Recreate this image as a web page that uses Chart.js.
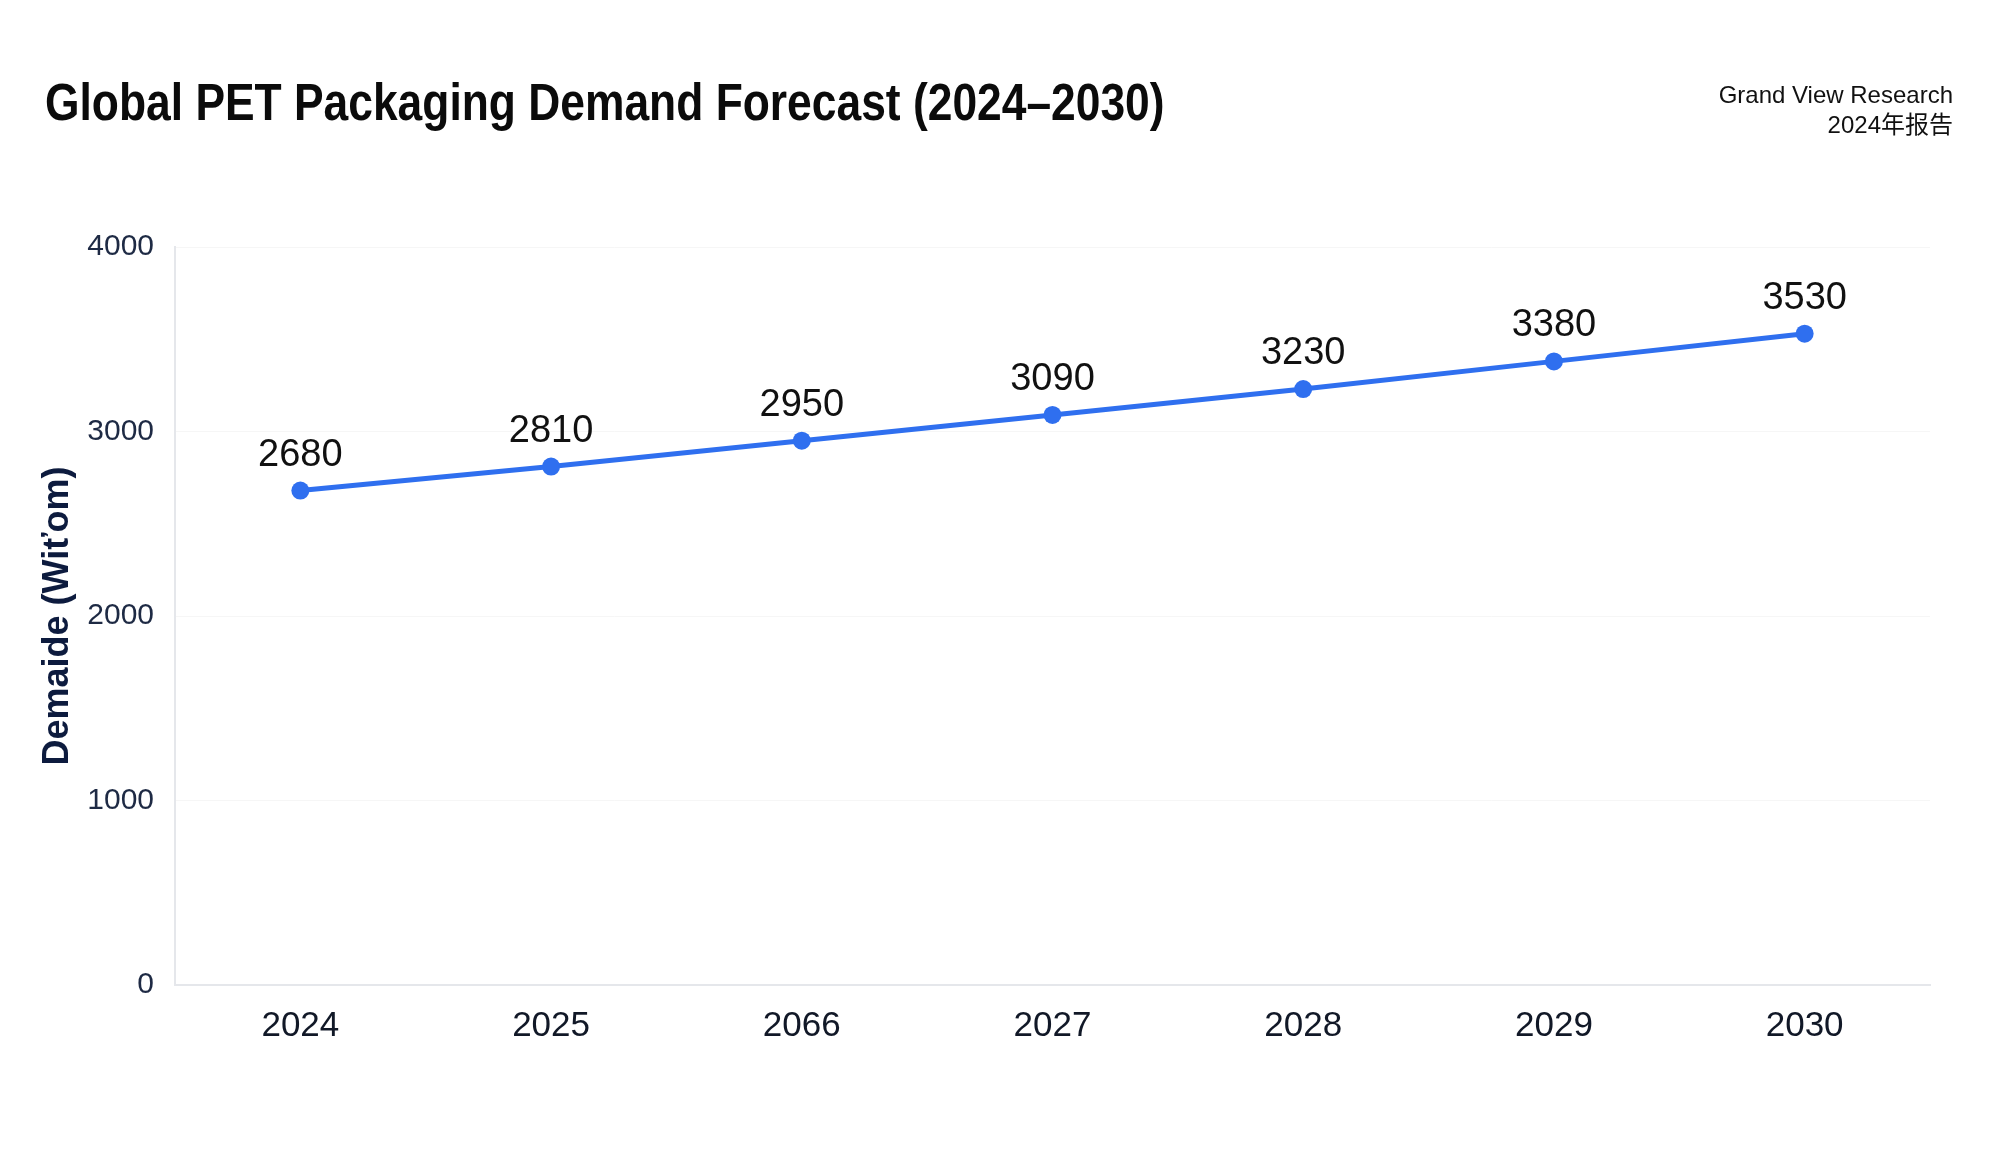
<!DOCTYPE html>
<html>
<head>
<meta charset="utf-8">
<script src="https://cdn.jsdelivr.net/npm/chart.js@4.4.1/dist/chart.umd.min.js"></script>
<style>
  html, body { margin: 0; padding: 0; background: #fff; overflow: hidden; }
  #wrap { position: relative; width: 2000px; height: 1167px; }
  #title {
    position: absolute; left: 45px; top: 77px; margin: 0;
    font: bold 51px "Liberation Sans", Arial, sans-serif; line-height: 1;
    color: #0b0b0b; white-space: nowrap;
    transform: scaleX(0.87); transform-origin: left top;
  }
  #source {
    position: absolute; right: 47px; top: 80px; text-align: right;
    font: 24px "Liberation Sans", Arial, "Noto Sans CJK SC", sans-serif; line-height: 30px;
    color: #111;
  }
</style>
</head>
<body>
<div id="wrap">
  <canvas id="lineChart"></canvas>
  <h1 id="title">Global PET Packaging Demand Forecast (2024–2030)</h1>
  <div id="source">Grand View Research<br>2024年报告</div>
</div>
<script>
// data
const years = ['2024', '2025', '2066', '2027', '2028', '2029', '2030'];
const demand = [2680, 2810, 2950, 3090, 3230, 3380, 3530];
const yTicks = [0, 1000, 2000, 3000, 4000];

const blue = '#2f6fef';

// value labels above each point
const pointLabels = {
    id: 'pointLabels',
    afterDatasetsDraw(chart) {
        const ctx = chart.ctx;
        const meta = chart.getDatasetMeta(0);
        ctx.save();
        ctx.font = '38px "Liberation Sans", Arial, sans-serif';
        ctx.fillStyle = '#111';
        ctx.textAlign = 'center';
        ctx.textBaseline = 'alphabetic';
        meta.data.forEach((pt, i) => {
            ctx.fillText(String(demand[i]), pt.x, pt.y - 25);
        });
        ctx.restore();
    }
};

new Chart(document.getElementById('lineChart'), {
    type: 'line',
    data: {
        labels: years,
        datasets: [{
            label: 'Demand',
            data: demand,
            borderColor: blue,
            backgroundColor: blue,
            borderWidth: 5,
            pointRadius: 9,
            pointHoverRadius: 9,
            pointBackgroundColor: blue,
            pointBorderWidth: 0,
            tension: 0,
            fill: false
        }]
    },
    options: {
        responsive: true,
        maintainAspectRatio: false,
        animation: false,
        layout: { padding: { top: 247, right: 70, left: 0, bottom: 0 } },
        plugins: {
            legend: { display: false },
            tooltip: { enabled: false },
            title: { display: false }
        },
        scales: {
            x: {
                offset: true,
                grid: { display: false, drawTicks: false },
                border: { display: true, color: '#e5e7eb', width: 2 },
                ticks: {
                    padding: 20,
                    color: '#111827',
                    font: { family: '"Liberation Sans", Arial, sans-serif', size: 35 }
                },
                afterFit(scale) { scale.height = 182; }
            },
            y: {
                min: 0,
                max: 4000,
                afterBuildTicks(scale) { scale.ticks = yTicks.map(v => ({ value: v })); },
                grid: { color: 'rgba(0,0,0,0.035)', drawTicks: false },
                border: { display: true, color: '#e5e7eb', width: 2 },
                ticks: {
                    padding: 21,
                    color: '#1e2a44',
                    font: { family: '"Liberation Sans", Arial, sans-serif', size: 30 },
                    callback: v => String(v)
                },
                title: {
                    display: true,
                    text: 'Demaide (Wiťom)',
                    color: '#0d1b3e',
                    padding: { top: 36, bottom: 0 },
                    font: { family: '"Liberation Sans", Arial, sans-serif', size: 36, weight: 'bold' }
                },
                afterFit(scale) { scale.width = 175; }
            }
        }
    },
    plugins: [pointLabels]
});
</script>
</body>
</html>
